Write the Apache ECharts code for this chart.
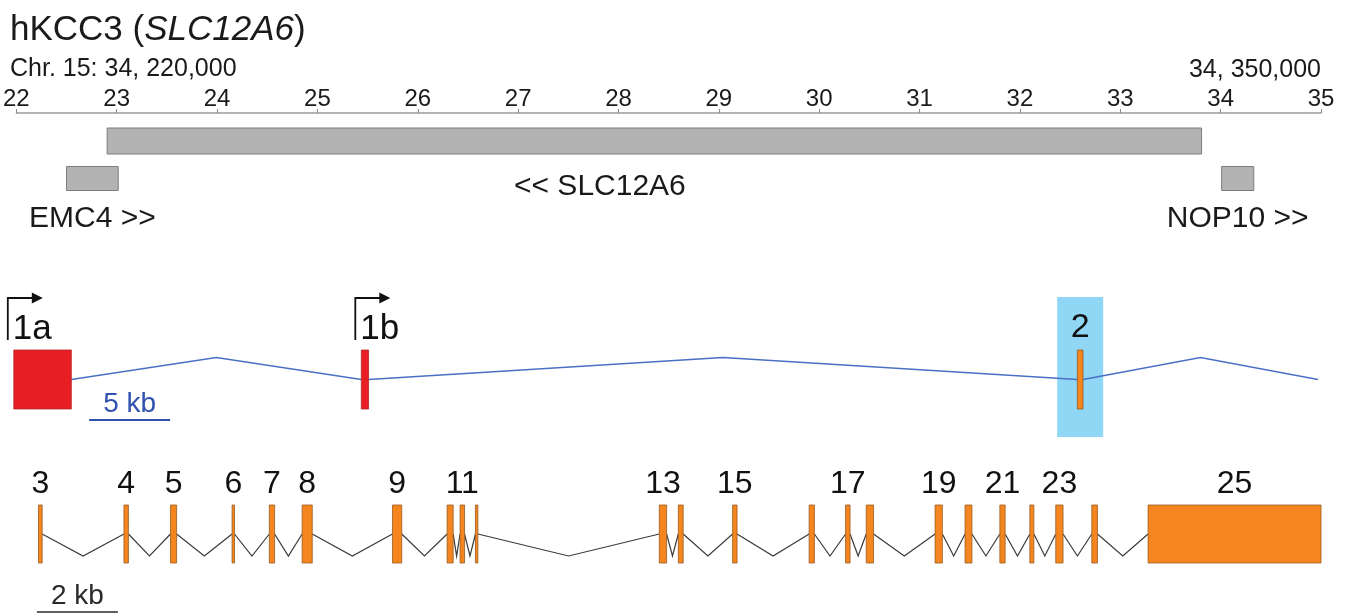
<!DOCTYPE html>
<html><head><meta charset="utf-8">
<script src="https://cdn.jsdelivr.net/npm/echarts@6/dist/echarts.min.js"></script>
<style>html,body{margin:0;padding:0;background:#fff}#c{width:1353px;height:614px}</style>
</head><body><div id="c"></div>
<script>
// ---------------- data ----------------
// genome ruler (units of 10 kb; 22 = Chr.15: 34,220,000, 35 = 34,350,000)
const rulerMin = 22, rulerMax = 35, rulerStep = 1;
const rulerLeftLabel = 'Chr. 15: 34, 220,000';
const rulerRightLabel = '34, 350,000';

// genes in the region (ruler units)
const geneNames  = ['SLC12A6', 'EMC4', 'NOP10'];
const geneLabels = ['<< SLC12A6', 'EMC4 >>', 'NOP10 >>'];
const geneStart  = [22.905, 22.50, 34.01];
const geneEnd    = [33.81, 23.015, 34.33];
const geneTrack  = [0, 1, 1];

// upstream exons (kb, 5 kb scale)
const upExonNames = ['1a', '1b', '2'];
const upExonStart = [0.05, 21.50, 65.70];
const upExonEnd   = [3.60, 21.95, 66.05];
const upExonKind  = ['alt', 'alt', 'core'];
const upTSS       = ['1a', '1b'];
const upHighlight = ['2'];
const upLineEnd   = 80.55;
const upScaleBar  = [4.7, 9.7];
const upScaleText = '5 kb';

// exons 3-25 (kb, 2 kb scale)
const exonNames = ['3','4','5','6','7','8','9','10','11','12','13','14','15','16','17','18','19','20','21','22','23','24','25'];
const exonStart = [0.63, 2.74, 3.89, 5.41, 6.33, 7.14, 9.37, 10.72, 11.04, 11.42, 15.96, 16.43, 17.77, 19.66, 20.56, 21.07, 22.77, 23.51, 24.37, 25.11, 25.75, 26.64, 28.03];
const exonEnd   = [0.72, 2.85, 4.04, 5.47, 6.46, 7.39, 9.60, 10.87, 11.15, 11.48, 16.14, 16.55, 17.88, 19.79, 20.67, 21.25, 22.95, 23.68, 24.50, 25.21, 25.93, 26.78, 32.30];
const exonLabelled = ['3','4','5','6','7','8','9','11','13','15','17','19','21','23','25'];
const exScaleBar  = [0.59, 2.59];
const exScaleText = '2 kb';

// ---------------- chart ----------------
const FF = '"Liberation Sans", Arial, sans-serif';
const chart = echarts.init(document.getElementById('c'), null, {renderer: 'canvas'});

const geneData = geneNames.map((n, i) => [geneStart[i], geneEnd[i], geneTrack[i]]);
const upExonData = upExonNames.map((n, i) => [upExonStart[i], upExonEnd[i], 0]);
const upIntronData = upExonNames.map((n, i) => [upExonEnd[i], i + 1 < upExonNames.length ? upExonStart[i + 1] : upLineEnd, 0]);
const exonData = exonNames.map((n, i) => [exonStart[i], exonEnd[i], 0]);
const exIntronData = exonNames.slice(0, -1).map((n, i) => [exonEnd[i], exonStart[i + 1], 0]);
const upHiData = upExonNames.map((n, i) => upHighlight.includes(n) ? [upExonStart[i], upExonEnd[i], 0] : null).filter(Boolean);

function intronRenderer(color, width, dy) {
  return function (params, api) {
    const a = api.coord([api.value(0), 0]);
    const b = api.coord([api.value(1), 0]);
    return {type: 'polyline', shape: {points: [a, [(a[0] + b[0]) / 2, a[1] + dy], b]},
      style: {stroke: color, lineWidth: width, fill: null}};
  };
}
function scaleRenderer(color, width, dy, text) {
  return function (params, api) {
    const a = api.coord([api.value(0), -1]);
    const b = api.coord([api.value(1), -1]);
    const y = a[1] + dy;
    return {type: 'group', children: [
      {type: 'line', shape: {x1: a[0], y1: y, x2: b[0], y2: y}, style: {stroke: color, lineWidth: width}},
      {type: 'text', style: {text: text, x: (a[0] + b[0]) / 2, y: y - 16, align: 'center', verticalAlign: 'middle',
        fontSize: 28, fontFamily: FF, fill: color}}
    ]};
  };
}

const option = {
  animation: false,
  backgroundColor: '#fff',
  title: {
    text: '{n|hKCC3 (}{i|SLC12A6}{n|)}', left: 10, top: 13, padding: 0,
    textStyle: {fontWeight: 'normal', rich: {
      n: {fontSize: 35, color: '#1a1a1a', fontFamily: FF, fontWeight: 'normal'},
      i: {fontSize: 35, color: '#1a1a1a', fontFamily: FF, fontStyle: 'italic', fontWeight: 'normal'}
    }}
  },
  graphic: [
    {type: 'text', left: 10, top: 57, style: {text: rulerLeftLabel, fontSize: 25, fontFamily: FF, fill: '#1a1a1a'}},
    {type: 'text', right: 32, top: 58, style: {text: rulerRightLabel, fontSize: 25, fontFamily: FF, fill: '#1a1a1a'}},
    {type: 'text', left: 514, top: 172, style: {text: geneLabels[0], fontSize: 30, fontFamily: FF, fill: '#1a1a1a'}}
  ],
  grid: [
    {left: 13, right: 32, top: 141, height: 37.5},
    {left: 13, right: 32, top: 350, height: 59},
    {left: 13, right: 32, top: 505, height: 58}
  ],
  xAxis: [
    {gridIndex: 0, type: 'value', position: 'top', offset: 28, min: rulerMin, max: rulerMax, interval: rulerStep,
      axisLine: {show: true, lineStyle: {color: '#9a9a9a', width: 1.5}},
      axisTick: {show: true, length: 4, lineStyle: {color: '#8a8a8a', width: 1}},
      axisLabel: {fontSize: 24, color: '#1a1a1a', fontFamily: FF, margin: 2},
      splitLine: {show: false}},
    {gridIndex: 1, type: 'value', min: 0, max: 80.74, show: false},
    {gridIndex: 2, type: 'value', min: 0, max: 32.3, show: false}
  ],
  yAxis: [
    {gridIndex: 0, type: 'category', data: ['main', 'flank'], inverse: true, boundaryGap: false, show: false},
    {gridIndex: 1, type: 'value', min: -1, max: 1, show: false},
    {gridIndex: 2, type: 'value', min: -1, max: 1, show: false}
  ],
  series: [
    // genes
    {type: 'custom', xAxisIndex: 0, yAxisIndex: 0, clip: false, encode: {x: [0, 1], y: 2}, data: geneData,
      renderItem(params, api) {
        const i = params.dataIndex;
        const s = api.coord([api.value(0), api.value(2)]);
        const e = api.coord([api.value(1), api.value(2)]);
        const h = geneTrack[i] === 0 ? 26 : 24;
        const ch = [{type: 'rect', shape: {x: s[0], y: s[1] - h / 2, width: e[0] - s[0], height: h},
          style: {fill: '#b3b3b3', stroke: '#7d7d7d', lineWidth: 1}}];
        if (geneTrack[i] === 1) {
          ch.push({type: 'text', style: {text: geneLabels[i], x: (s[0] + e[0]) / 2, y: s[1] + h / 2 + 28,
            align: 'center', verticalAlign: 'middle', fontSize: 30, fontFamily: FF, fill: '#1a1a1a'}});
        }
        return {type: 'group', children: ch};
      }},
    // highlight of exon 2
    {type: 'custom', xAxisIndex: 1, yAxisIndex: 1, clip: false, encode: {x: [0, 1]}, data: upHiData,
      renderItem(params, api) {
        const a = api.coord([api.value(0), 1]);
        const b = api.coord([api.value(1), -1]);
        const cx = (a[0] + b[0]) / 2;
        return {type: 'rect', shape: {x: cx - 23, y: a[1] - 53, width: 46, height: b[1] - a[1] + 81},
          style: {fill: '#8fd7f5'}};
      }},
    // upstream introns
    {type: 'custom', xAxisIndex: 1, yAxisIndex: 1, clip: false, encode: {x: [0, 1]}, data: upIntronData,
      renderItem: intronRenderer('#4b6fc6', 1.5, -22)},
    // upstream exons
    {type: 'custom', xAxisIndex: 1, yAxisIndex: 1, clip: false, encode: {x: [0, 1]}, data: upExonData,
      renderItem(params, api) {
        const i = params.dataIndex;
        const a = api.coord([api.value(0), 1]);
        const b = api.coord([api.value(1), -1]);
        const alt = upExonKind[i] === 'alt';
        const ch = [{type: 'rect', shape: {x: a[0], y: a[1], width: Math.max(b[0] - a[0], 2), height: b[1] - a[1]},
          style: {fill: alt ? '#e81e25' : '#f4851f', stroke: alt ? '#b3262a' : '#9a5a1e', lineWidth: 0.8}}];
        if (upTSS.includes(upExonNames[i])) {
          const x0 = a[0] - 6, yb = a[1] - 10, yt = a[1] - 52;
          ch.push({type: 'polyline', shape: {points: [[x0, yb], [x0, yt], [x0 + 26, yt]]},
            style: {stroke: '#111', lineWidth: 1.8, fill: null}});
          ch.push({type: 'polygon', shape: {points: [[x0 + 24, yt - 5.5], [x0 + 35, yt], [x0 + 24, yt + 5.5]]},
            style: {fill: '#111'}});
          ch.push({type: 'text', style: {text: upExonNames[i], x: x0 + 5, y: a[1] - 21, align: 'left', verticalAlign: 'middle',
            fontSize: 35, fontFamily: FF, fill: '#111'}});
        } else {
          ch.push({type: 'text', style: {text: upExonNames[i], x: (a[0] + b[0]) / 2, y: a[1] - 22, align: 'center', verticalAlign: 'middle',
            fontSize: 34, fontFamily: FF, fill: '#111'}});
        }
        return {type: 'group', children: ch};
      }},
    // 5 kb scale bar
    {type: 'custom', xAxisIndex: 1, yAxisIndex: 1, clip: false, encode: {x: [0, 1]}, data: [[upScaleBar[0], upScaleBar[1], 0]],
      renderItem: scaleRenderer('#3152ae', 2, 11, upScaleText)},
    // exon 3-25 introns
    {type: 'custom', xAxisIndex: 2, yAxisIndex: 2, clip: false, encode: {x: [0, 1]}, data: exIntronData,
      renderItem: intronRenderer('#3a3a3a', 1.2, 22)},
    // exons 3-25
    {type: 'custom', xAxisIndex: 2, yAxisIndex: 2, clip: false, encode: {x: [0, 1]}, data: exonData,
      renderItem(params, api) {
        const i = params.dataIndex;
        const a = api.coord([api.value(0), 1]);
        const b = api.coord([api.value(1), -1]);
        const ch = [{type: 'rect', shape: {x: a[0], y: a[1], width: Math.max(b[0] - a[0], 2), height: b[1] - a[1]},
          style: {fill: '#f4851f', stroke: '#9a5a1e', lineWidth: 0.8}}];
        if (exonLabelled.includes(exonNames[i])) {
          ch.push({type: 'text', style: {text: exonNames[i], x: (a[0] + b[0]) / 2, y: a[1] - 21, align: 'center', verticalAlign: 'middle',
            fontSize: 32, fontFamily: FF, fill: '#111'}});
        }
        return {type: 'group', children: ch};
      }},
    // 2 kb scale bar
    {type: 'custom', xAxisIndex: 2, yAxisIndex: 2, clip: false, encode: {x: [0, 1]}, data: [[exScaleBar[0], exScaleBar[1], 0]],
      renderItem: scaleRenderer('#2a2a2a', 1.5, 49, exScaleText)}
  ]
};
chart.setOption(option);
</script>
</body></html>
